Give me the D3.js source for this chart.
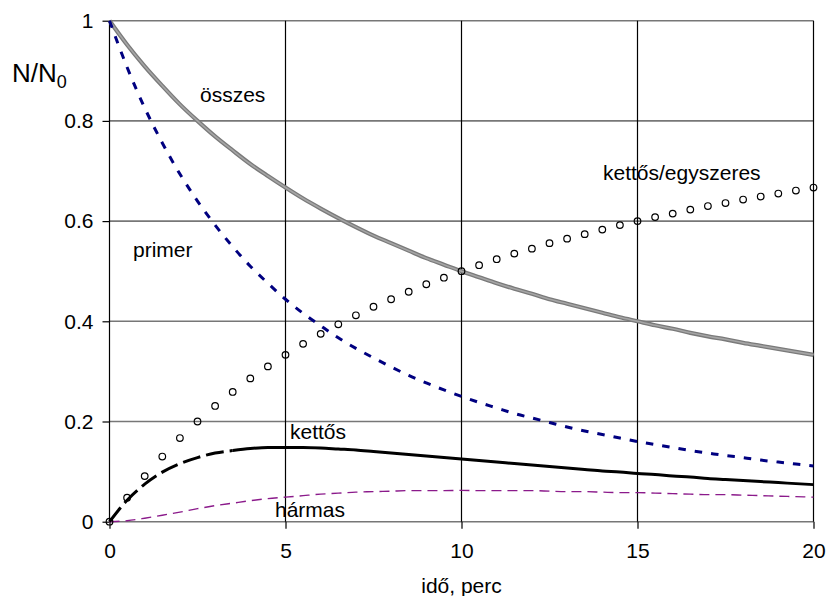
<!DOCTYPE html>
<html>
<head>
<meta charset="utf-8">
<script src="https://cdn.jsdelivr.net/npm/d3@7/dist/d3.min.js"></script>
<style>
  html, body { margin: 0; padding: 0; background: #fff; }
  svg { display: block; font-family: "Liberation Sans", Arial, sans-serif; }
</style>
</head>
<body>
<svg id="chart" width="826" height="596"></svg>
<script>
// ---- data (time in minutes, N/N0) ----
const time = [0,0.5,1,1.5,2,2.5,3,3.5,4,4.5,5,5.5,6,6.5,7,7.5,8,8.5,9,9.5,10,
              10.5,11,11.5,12,12.5,13,13.5,14,14.5,15,15.5,16,16.5,17,17.5,18,18.5,19,19.5,20];
const osszes = [1,0.952,0.909,0.870,0.833,0.800,0.769,0.741,0.714,0.690,0.667,0.645,0.625,0.606,0.588,0.571,0.556,0.541,0.526,0.513,0.500,
                0.488,0.476,0.465,0.455,0.444,0.435,0.426,0.417,0.408,0.400,0.392,0.385,0.377,0.370,0.364,0.357,0.351,0.345,0.339,0.333];
const primer = [1,0.907,0.826,0.756,0.694,0.640,0.592,0.549,0.510,0.476,0.444,0.416,0.391,0.367,0.346,0.327,0.309,0.292,0.277,0.263,0.250,
                0.238,0.227,0.216,0.207,0.198,0.189,0.181,0.174,0.167,0.160,0.154,0.148,0.142,0.137,0.132,0.128,0.123,0.119,0.115,0.111];
const kettosEgyszeres = [0,0.048,0.091,0.130,0.167,0.200,0.231,0.259,0.286,0.310,0.333,0.355,0.375,0.394,0.412,0.429,0.444,0.459,0.474,0.487,0.500,
                0.512,0.524,0.535,0.545,0.556,0.565,0.574,0.583,0.592,0.600,0.608,0.615,0.623,0.630,0.636,0.643,0.649,0.655,0.661,0.667];
const kettos = [0,0.043,0.075,0.099,0.116,0.128,0.137,0.142,0.146,0.148,0.148,0.148,0.147,0.145,0.143,0.140,0.137,0.134,0.131,0.128,0.125,
                0.122,0.119,0.116,0.113,0.110,0.107,0.104,0.101,0.099,0.096,0.094,0.091,0.089,0.086,0.084,0.082,0.080,0.078,0.076,0.074];
const harmas = [0,0.002,0.007,0.013,0.019,0.026,0.032,0.037,0.042,0.046,0.049,0.052,0.055,0.057,0.059,0.060,0.061,0.062,0.062,0.062,0.0625,
                0.062,0.062,0.062,0.062,0.061,0.060,0.060,0.059,0.058,0.058,0.057,0.056,0.055,0.054,0.054,0.053,0.052,0.051,0.050,0.049];
const xTicks = [0,5,10,15,20];
const yTicks = [0,0.2,0.4,0.6,0.8,1];
const yTickLabels = ["0","0.2","0.4","0.6","0.8","1"];

// ---- layout ----
const svg = d3.select("#chart");
const x = d3.scaleLinear().domain([0,20]).range([109.5, 813.5]);
const y = d3.scaleLinear().domain([0,1]).range([521.7, 20.7]);
const FS = 21;

// horizontal gridlines (gray)
svg.append("g").selectAll("line").data(yTicks).join("line")
  .attr("x1", x(0)).attr("x2", x(20))
  .attr("y1", d => y(d)).attr("y2", d => y(d))
  .attr("stroke", "#777").attr("stroke-width", 1.6);

// vertical gridlines (black)
svg.append("g").selectAll("line").data(xTicks.filter(d => d > 0)).join("line")
  .attr("x1", d => x(d)).attr("x2", d => x(d))
  .attr("y1", y(1)).attr("y2", y(0))
  .attr("stroke", "#000").attr("stroke-width", 1.2);

// axes
const xAxis = d3.axisBottom(x).tickValues(xTicks).tickSize(7).tickPadding(14).tickFormat(d3.format("d"));
const gx = svg.append("g").attr("transform", `translate(0,${y(0)})`).call(xAxis);
gx.select(".domain").remove();
gx.selectAll(".tick line").attr("stroke", "#000").attr("stroke-width", 1.2);
gx.selectAll("text").attr("font-size", FS).attr("fill", "#000")
  .attr("font-family", "Liberation Sans, Arial, sans-serif");

const yAxis = d3.axisLeft(y).tickValues(yTicks).tickSize(7).tickPadding(9)
  .tickFormat((d, i) => yTickLabels[i]);
const gy = svg.append("g").attr("transform", `translate(${x(0)},0)`).call(yAxis);
gy.select(".domain").attr("stroke", "#000").attr("stroke-width", 1.2).attr("d", `M0,${y(1)}V${y(0)}`);
gy.selectAll(".tick line").attr("stroke", "#000").attr("stroke-width", 1.2);
gy.selectAll("text").attr("font-size", FS).attr("fill", "#000")
  .attr("font-family", "Liberation Sans, Arial, sans-serif");

// ---- series ----
const pts = arr => time.map((t, i) => [t, arr[i]]);
const line = d3.line().x(d => x(d[0])).y(d => y(d[1])).curve(d3.curveMonotoneX);

// összes
svg.append("path").datum(pts(osszes)).attr("d", line)
  .attr("fill", "none").attr("stroke", "#7a7a7a").attr("stroke-width", 4.2);
svg.append("path").datum(pts(osszes)).attr("d", line)
  .attr("fill", "none").attr("stroke", "#a5a5a5").attr("stroke-width", 1.6);

// primer
svg.append("path").datum(pts(primer)).attr("d", line)
  .attr("fill", "none").attr("stroke", "#000080").attr("stroke-width", 3)
  .attr("stroke-dasharray", "7.5,9");

// hármas
svg.append("path").datum(pts(harmas)).attr("d", line)
  .attr("fill", "none").attr("stroke", "#8b1a8b").attr("stroke-width", 1.4)
  .attr("stroke-dasharray", "10,6");

// kettős: dashed at start, solid afterwards
const kp = pts(kettos);
svg.append("path").datum(kp.filter(d => d[0] <= 3.5)).attr("d", line)
  .attr("fill", "none").attr("stroke", "#000").attr("stroke-width", 3)
  .attr("stroke-dasharray", "18,6");
svg.append("path").datum(kp.filter(d => d[0] >= 3.5)).attr("d", line)
  .attr("fill", "none").attr("stroke", "#000").attr("stroke-width", 3);

// kettős/egyszeres markers
svg.append("g").selectAll("circle").data(pts(kettosEgyszeres)).join("circle")
  .attr("cx", d => x(d[0])).attr("cy", d => y(d[1])).attr("r", 3.3)
  .attr("fill", "none").attr("stroke", "#000").attr("stroke-width", 1.2);

// ---- labels ----
const labels = [
  { text: "összes", x: 200, y: 102 },
  { text: "primer", x: 133, y: 257 },
  { text: "kettős/egyszeres", x: 603, y: 180 },
  { text: "kettős", x: 290, y: 439 },
  { text: "hármas", x: 275, y: 517 }
];
svg.append("g").selectAll("text").data(labels).join("text")
  .attr("x", d => d.x).attr("y", d => d.y).text(d => d.text)
  .attr("font-size", FS).attr("fill", "#000");

// y label N/N0
const yl = svg.append("text").attr("x", 12).attr("y", 82).attr("font-size", 26).attr("fill", "#000");
yl.append("tspan").text("N/N");
yl.append("tspan").text("0").attr("font-size", 18).attr("dy", 6);

// x label
svg.append("text").attr("x", 461.5).attr("y", 593).attr("text-anchor", "middle")
  .attr("font-size", FS).attr("fill", "#000").text("idő, perc");
</script>
</body>
</html>
